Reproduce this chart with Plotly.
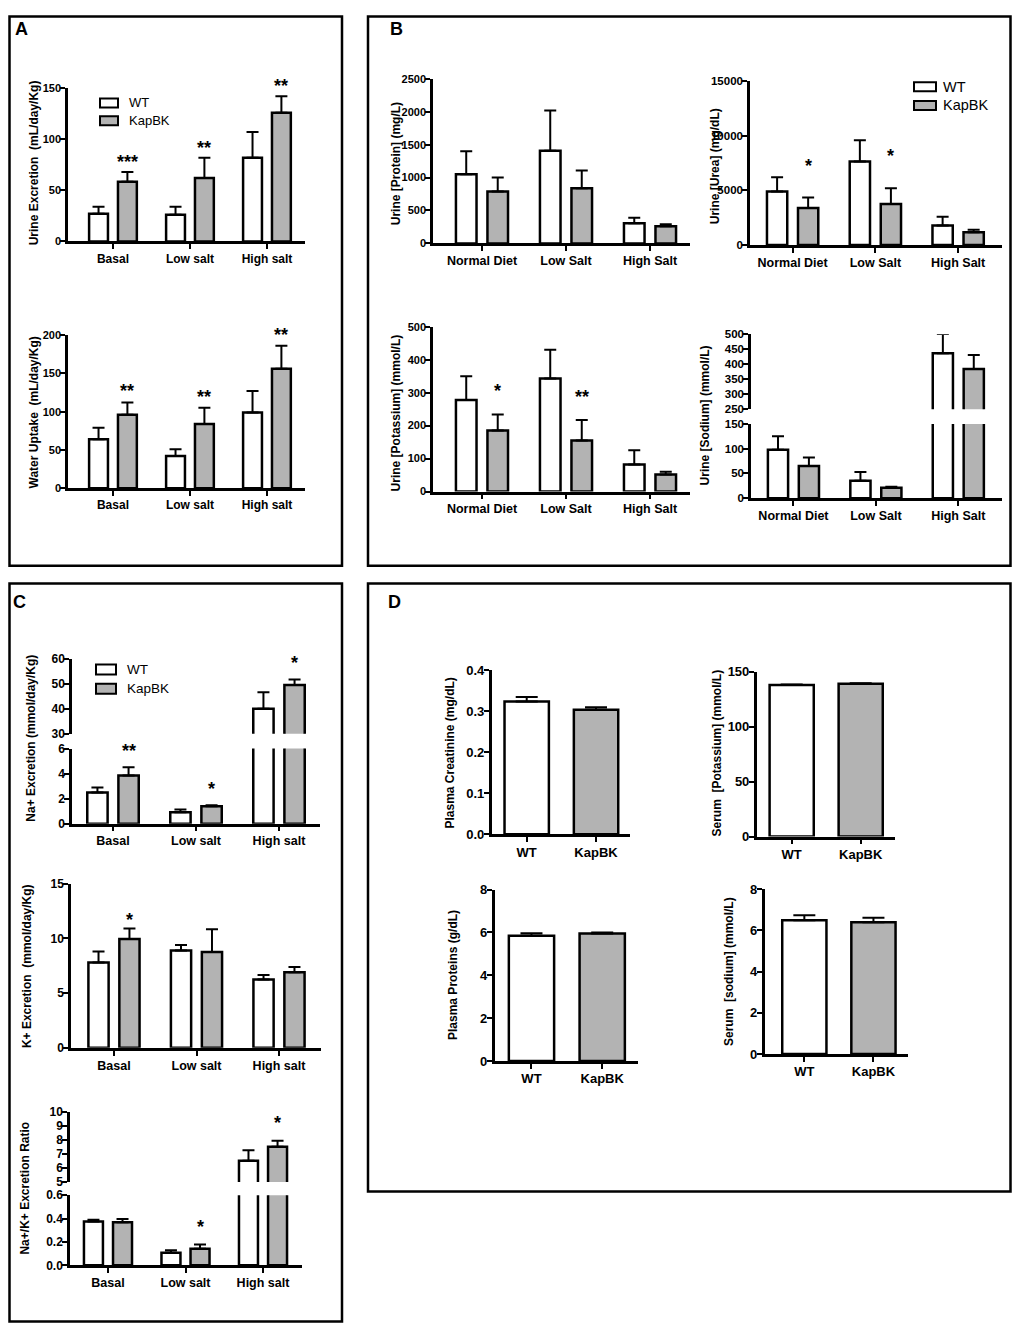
import plotly.graph_objects as go

W, H = 1020, 1339          # reference picture size
OX, OY = 8, 8              # page body margin
FW, FH = W - 2 * OX, H - 2 * OY
FONT = 'Liberation Sans'
GREY = '#b3b3b3'
BW = 0.245      # bar width, category units (paired charts)
HALF = 0.1875   # half distance between paired bar centres
BW_D = 0.64     # bar width for panel D

# ---------------- data ----------------
diet_a = ['Basal', 'Low salt', 'High salt']
diet_b = ['Normal Diet', 'Low Salt', 'High Salt']
genotype = ['WT', 'KapBK']

# A
urine_exc_wt = [27, 26, 82]
urine_exc_wt_err = [7, 8, 25]
urine_exc_ko = [58.5, 62, 126]
urine_exc_ko_err = [9.5, 20, 16]
urine_exc_sig = ['***', '**', '**']

water_wt = [64, 42, 99]
water_wt_err = [15, 9, 28]
water_ko = [96, 84, 156]
water_ko_err = [16, 21, 30]
water_sig = ['**', '**', '**']

# B
protein_wt = [1050, 1410, 305]
protein_wt_err = [350, 610, 85]
protein_ko = [790, 840, 260]
protein_ko_err = [210, 270, 30]
protein_sig = ['', '', '']

urea_wt = [4900, 7650, 1800]
urea_wt_err = [1300, 1950, 800]
urea_ko = [3400, 3750, 1180]
urea_ko_err = [950, 1450, 230]
urea_sig = ['*', '*', '']

potassium_wt = [278, 343, 82]
potassium_wt_err = [72, 87, 43]
potassium_ko = [185, 155, 52]
potassium_ko_err = [49, 62, 8]
potassium_sig = ['*', '**', '']

sodium_wt = [98, 35, 437]
sodium_wt_err = [27, 18, 64]
sodium_ko = [65, 21, 384]
sodium_ko_err = [17, 2, 47]
sodium_sig = ['', '', '']

# C
na_exc_wt = [2.5, 0.92, 40]
na_exc_wt_err = [0.4, 0.21, 6.6]
na_exc_ko = [3.85, 1.4, 49.5]
na_exc_ko_err = [0.65, 0.08, 2.3]
na_exc_sig = ['**', '*', '*']

k_exc_wt = [7.8, 8.9, 6.25]
k_exc_wt_err = [1.0, 0.5, 0.4]
k_exc_ko = [9.95, 8.75, 6.9]
k_exc_ko_err = [0.95, 2.1, 0.5]
k_exc_sig = ['*', '', '']

ratio_wt = [0.375, 0.107, 6.5]
ratio_wt_err = [0.014, 0.023, 0.75]
ratio_ko = [0.369, 0.141, 7.5]
ratio_ko_err = [0.028, 0.037, 0.43]
ratio_sig = ['', '*', '*']

# D
creatinine = [0.3245, 0.304]
creatinine_err = [0.011, 0.006]
serum_k = [138, 139]
serum_k_err = [0.5, 0.5]
plasma_prot = [5.85, 5.95]
plasma_prot_err = [0.12, 0.05]
serum_na = [6.5, 6.4]
serum_na_err = [0.24, 0.22]

# ---------------- helpers ----------------
fig = go.Figure()
shapes, annots = [], []
n_axes = [0]


def fx(x):
    return (x - OX) / FW


def fy(y):
    return 1 - (y - OY) / FH


def sfx(k):
    return '' if k == 1 else str(k)


def add_axes(x0, x1, ytop, ybot, xr, yr, yticks, cats, tsize, csize,
             show_x=True, fmt=None):
    """ new subplot placed from a pixel box, returns its index """
    n_axes[0] += 1
    k = n_axes[0]
    s = sfx(k)
    fig.update_layout({
        'xaxis' + s: dict(domain=[fx(x0), fx(x1)], range=xr, anchor='y' + s,
                          type='category', categoryorder='array',
                          categoryarray=cats, visible=show_x,
                          showline=True, linecolor='black', linewidth=2.5,
                          ticks='outside', ticklen=5, tickwidth=2,
                          tickcolor='black', showgrid=False, zeroline=False,
                          ticklabelstandoff=-1,
                          tickfont=dict(family=FONT, size=csize,
                                        color='black', weight='bold')),
        'yaxis' + s: dict(domain=[fy(ybot), fy(ytop)], range=yr,
                          anchor='x' + s, showline=True, linecolor='black',
                          linewidth=2.5, ticks='outside', ticklen=5,
                          tickwidth=2, tickcolor='black', tickvals=yticks,
                          tickformat=fmt or 'd', showgrid=False,
                          zeroline=False, ticklabelstandoff=-3,
                          tickfont=dict(family=FONT, size=tsize,
                                        color='black', weight='bold'))})
    return k


def err(arr, w=6):
    return dict(type='data', array=arr, arrayminus=[0] * len(arr),
                symmetric=False, color='black', thickness=2, width=w)


def pair_bars(k, cats, wt, wt_err, ko, ko_err):
    s = sfx(k)
    for vals, errs, fill, off in [(wt, wt_err, 'white', -HALF - BW / 2),
                                  (ko, ko_err, GREY, HALF - BW / 2)]:
        fig.add_trace(go.Bar(x=cats, y=vals, width=BW, offset=off,
                             marker=dict(color=fill,
                                         line=dict(color='black', width=2.5)),
                             error_y=err(errs), xaxis='x' + s, yaxis='y' + s,
                             showlegend=False, hoverinfo='x+y'))


def stars(ks, ko, ko_err, sig, shift, split=None):
    for i, t in enumerate(sig):
        if not t:
            continue
        top = ko[i] + ko_err[i]
        k = ks[1] if (split is not None and top > split) else ks[0]
        annots.append(dict(x=i + HALF, y=top, xref='x' + sfx(k),
                           yref='y' + sfx(k), text=t, showarrow=False,
                           yanchor='middle', yshift=shift,
                           font=dict(family=FONT, size=18, color='black',
                                     weight='bold')))


def ytitle(text, xp, yp, size=12):
    annots.append(dict(x=fx(xp), y=fy(yp), xref='paper', yref='paper',
                       text=text, textangle=-90, showarrow=False,
                       xanchor='center', yanchor='middle',
                       font=dict(family=FONT, size=size, color='black',
                                 weight='bold')))


def label(text, xp, yp):
    annots.append(dict(x=fx(xp), y=fy(yp), xref='paper', yref='paper',
                       text=text, showarrow=False, xanchor='center',
                       yanchor='middle',
                       font=dict(family=FONT, size=18, color='black',
                                 weight='bold')))


def box(x0, y0, x1, y1):
    # keep the frame inside the drawable figure area
    x0, y0 = max(x0, OX + 1.5), max(y0, OY + 1.5)
    x1, y1 = min(x1, W - OX - 1.5), min(y1, H - OY - 1.5)
    shapes.append(dict(type='rect', xref='paper', yref='paper',
                       x0=fx(x0), x1=fx(x1), y0=fy(y1), y1=fy(y0),
                       line=dict(color='black', width=2.5)))


def legend(x0, x1, y_wt, y_ko, h, tx, size):
    for y, fill, name in [(y_wt, 'white', 'WT'), (y_ko, GREY, 'KapBK')]:
        shapes.append(dict(type='rect', xref='paper', yref='paper',
                           x0=fx(x0), x1=fx(x1), y0=fy(y + h / 2),
                           y1=fy(y - h / 2), fillcolor=fill,
                           line=dict(color='black', width=2)))
        annots.append(dict(x=fx(tx), y=fy(y), xref='paper', yref='paper',
                           text=name, showarrow=False, xanchor='left',
                           yanchor='middle',
                           font=dict(family=FONT, size=size, color='black')))


# ---------------- panel A ----------------
xr_a = [-0.584, 2.494]
k = add_axes(68, 305, 82, 237, xr_a, [0, 150], [0, 50, 100, 150],
             diet_a, 11, 12)
pair_bars(k, diet_a, urine_exc_wt, urine_exc_wt_err, urine_exc_ko,
          urine_exc_ko_err)
stars([k], urine_exc_ko, urine_exc_ko_err, urine_exc_sig, 10)
ytitle('Urine Excretion\u00a0 (mL/day/Kg)', 34, 158)
legend(100, 118, 97, 115, 9, 127, 13)

k = add_axes(68, 305, 331.7, 486.7, xr_a, [0, 200],
             [0, 50, 100, 150, 200], diet_a, 11, 12)
pair_bars(k, diet_a, water_wt, water_wt_err, water_ko, water_ko_err)
stars([k], water_ko, water_ko_err, water_sig, 11)
ytitle('Water Uptake\u00a0 (mL/day/Kg)', 34, 410)

# ---------------- panel B ----------------
xr_b1 = [-0.583, 2.476]
xr_b2 = [-0.515, 2.53]
k = add_axes(433, 690, 72.7, 239, xr_b1, [0, 2500],
             [0, 500, 1000, 1500, 2000, 2500], diet_b, 11, 12.5)
pair_bars(k, diet_b, protein_wt, protein_wt_err, protein_ko, protein_ko_err)
ytitle('Urine [Protein] (mg/L)', 396, 159)

k = add_axes(750, 1002, 75, 240.7, xr_b2, [0, 15000],
             [0, 5000, 10000, 15000], diet_b, 11.5, 12.5)
pair_bars(k, diet_b, urea_wt, urea_wt_err, urea_ko, urea_ko_err)
stars([k], urea_ko, urea_ko_err, urea_sig, 32)
ytitle('Urine [Urea] (mg/dL)', 715, 161)
legend(914, 936, 80.5, 99.5, 9, 941, 14.5)

k = add_axes(433, 690, 323.3, 490, xr_b1, [0, 500],
             [0, 100, 200, 300, 400, 500], diet_b, 11, 12.5)
pair_bars(k, diet_b, potassium_wt, potassium_wt_err, potassium_ko,
          potassium_ko_err)
stars([k], potassium_ko, potassium_ko_err, potassium_sig, 23)
ytitle('Urine [Potassium] (mmol/L)', 396, 411)

k1 = add_axes(751, 1002, 421.7, 496.7, xr_b2, [0, 150], [0, 50, 100, 150],
              diet_b, 11.5, 12.5)
k2 = add_axes(751, 1002, 331, 406.7, xr_b2, [250, 500],
              [250, 300, 350, 400, 450, 500], diet_b, 11.5, 12.5,
              show_x=False)
for kk in (k1, k2):
    pair_bars(kk, diet_b, sodium_wt, sodium_wt_err, sodium_ko, sodium_ko_err)
ytitle('Urine [Sodium] (mmol/L)', 705, 413)

# ---------------- panel C ----------------
xr_c1 = [-0.494, 2.494]
k1 = add_axes(72, 320, 750, 826, xr_c1, [0, 6], [0, 2, 4, 6],
              diet_a, 12, 12.5)
k2 = add_axes(72, 320, 659.3, 735, xr_c1, [30, 60], [30, 40, 50, 60],
              diet_a, 12, 12.5, show_x=False)
for kk in (k1, k2):
    pair_bars(kk, diet_a, na_exc_wt, na_exc_wt_err, na_exc_ko, na_exc_ko_err)
stars([k1, k2], na_exc_ko, na_exc_ko_err, na_exc_sig, 16, split=6)
ytitle('Na+ Excretion (mmol/day/Kg)', 31, 740)
legend(96, 116, 670, 689.5, 10, 125, 13.5)

k = add_axes(71, 321, 886.7, 1052.7, [-0.521, 2.509], [0, 15],
             [0, 5, 10, 15], diet_a, 12, 12.5)
pair_bars(k, diet_a, k_exc_wt, k_exc_wt_err, k_exc_ko, k_exc_ko_err)
stars([k], k_exc_ko, k_exc_ko_err, k_exc_sig, 9)
ytitle('K+ Excretion\u00a0 (mmol/day/Kg)', 27, 970)

xr_c3 = [-0.49, 2.503]
k1 = add_axes(70, 302, 1201.7, 1272.7, xr_c3, [0, 0.6],
              [0, 0.2, 0.4, 0.6], diet_a, 12, 12.5, fmt='.1f')
k2 = add_axes(70, 302, 1117.3, 1188.3, xr_c3, [5, 10],
              [5, 6, 7, 8, 9, 10], diet_a, 12, 12.5, show_x=False)
for kk in (k1, k2):
    pair_bars(kk, diet_a, ratio_wt, ratio_wt_err, ratio_ko, ratio_ko_err)
stars([k1, k2], ratio_ko, ratio_ko_err, ratio_sig, 18, split=0.6)
ytitle('Na+/K+ Excretion Ratio', 25, 1195)

# ---------------- panel D ----------------
d_charts = [
    (491.7, 630, 671, 836.7, [-0.505, 1.49], [0, 0.4],
     [0, 0.1, 0.2, 0.3, 0.4], '.1f', creatinine, creatinine_err,
     'Plasma Creatinine (mg/dL)', 450, 755),
    (756.7, 895, 672.3, 839, [-0.507, 1.497], [0, 150],
     [0, 50, 100, 150], None, serum_k, serum_k_err,
     'Serum\u00a0 [Potassium] (mmol/L)', 717, 755),
    (494.7, 637.8, 892.7, 1066, [-0.52, 1.503], [0, 8],
     [0, 2, 4, 6, 8], None, plasma_prot, plasma_prot_err,
     'Plasma Proteins (g/dL)', 453, 979),
    (764.6, 908, 892.3, 1059, [-0.575, 1.5], [0, 8],
     [0, 2, 4, 6, 8], None, serum_na, serum_na_err,
     'Serum\u00a0 [sodium] (mmol/L)', 729, 976),
]
for x0, x1, yt, yb, xr, yr, tv, fmt, vals, errs, title, tx, ty in d_charts:
    k = add_axes(x0, x1, yt, yb, xr, yr, tv, genotype, 13, 13, fmt=fmt)
    fig.add_trace(go.Bar(x=genotype, y=vals, width=BW_D,
                         marker=dict(color=['white', GREY],
                                     line=dict(color='black', width=2.5)),
                         error_y=err(errs, 11), xaxis='x' + sfx(k),
                         yaxis='y' + sfx(k), showlegend=False))
    ytitle(title, tx, ty)

# ---------------- frames and letters ----------------
box(3, 3, 342, 565)
box(368, 3, 1015, 565)
box(3, 583, 342, 1335)
box(368, 583, 1015, 1198)
label('A', 21, 22)
label('B', 396, 22)
label('C', 19, 602)
label('D', 394, 602)

fig.update_layout(width=FW, height=FH, margin=dict(l=0, r=0, t=0, b=0),
                  barmode='overlay', paper_bgcolor='white',
                  plot_bgcolor='rgba(0,0,0,0)', showlegend=False,
                  shapes=shapes, annotations=annots,
                  font=dict(family=FONT, color='black'))

fig.write_html("out.html")
